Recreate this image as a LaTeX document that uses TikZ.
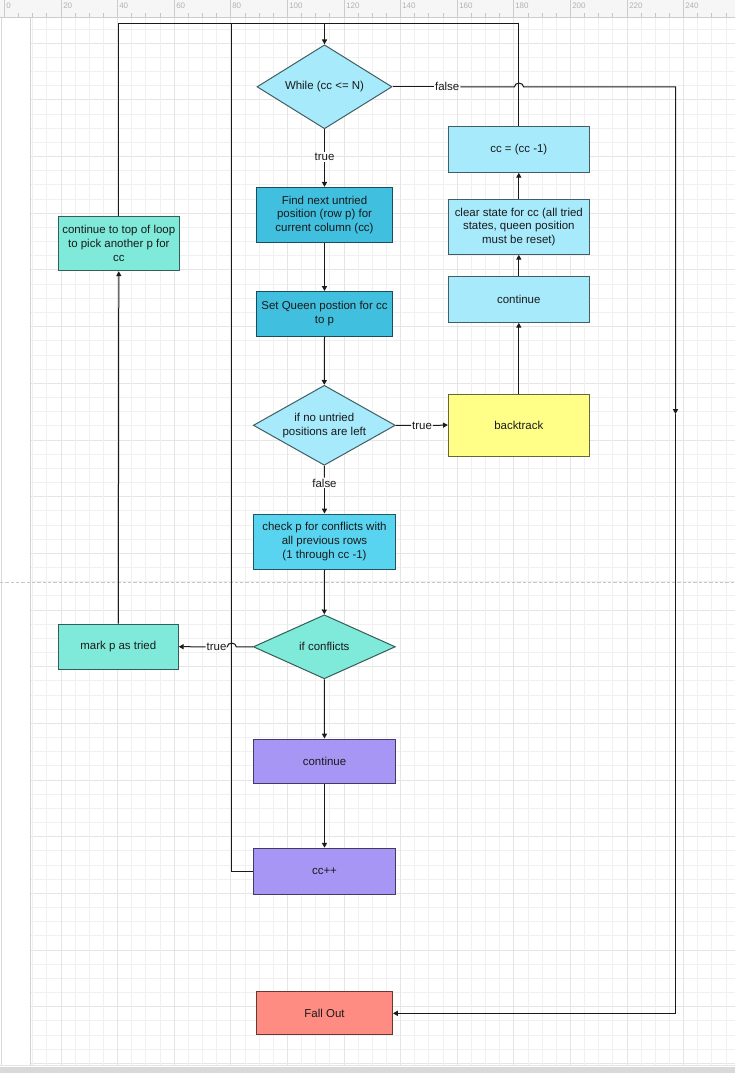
\documentclass[tikz,border=0pt]{standalone}
\usepackage{fontspec}
\setmainfont{Liberation Sans}
\usetikzlibrary{shapes.geometric,arrows.meta}

\definecolor{cyanlight}{HTML}{A6EAFB}
\definecolor{cyandark}{HTML}{40BFDE}
\definecolor{cyanmid}{HTML}{58D4F0}
\definecolor{aqua}{HTML}{80EADA}
\definecolor{lavender}{HTML}{A896F5}
\definecolor{lemon}{HTML}{FFFF88}
\definecolor{salmon}{HTML}{FF8C82}
\definecolor{ink}{HTML}{1A1A1A}

\begin{document}
\begin{tikzpicture}[x=0.75pt,y=-0.75pt,
  font=\fontsize{8.6}{10.2}\selectfont,
  flowbox/.style={rectangle, draw=#1!40!black, fill=#1, line width=0.75pt,
    inner sep=0pt, align=center, text=ink},
  flowdia/.style={diamond, draw=#1!40!black, fill=#1, line width=0.75pt,
    inner sep=0pt},
  txt/.style={align=center, text=ink, inner sep=0pt},
  lbl/.style={text=ink, inner sep=0.6pt},
  conn/.style={draw=ink, line width=0.75pt},
  arr/.style={conn, -{Triangle[length=3.6pt,width=3.8pt]}},
  gridminor/.style={draw=gray!12, line width=0.75pt},
  gridmajor/.style={draw=gray!20, line width=0.75pt},
]
% canvas
\fill[white] (0,0) rectangle (735,1073);
\useasboundingbox (0,0) rectangle (735,1073);

% drawing grid, one pixel wide lines on pixel centres;
% every fourth line is a major line
\foreach \i [evaluate=\i as \gy using {int(29.1+\i*14.17)+0.5},
             evaluate=\i as \m using {int(mod(\i,4))}] in {0,...,73} {
  \ifnum\m=1 \draw[gridmajor] (30,\gy) -- (735,\gy);
  \else \draw[gridminor] (30,\gy) -- (735,\gy); \fi
}
\foreach \k [evaluate=\k as \gx using {int(32.8+\k*14.15)+0.5},
             evaluate=\k as \m using {int(mod(\k,4))}] in {0,...,49} {
  \ifnum\m=2 \draw[gridmajor] (\gx,17) -- (\gx,1066);
  \else \draw[gridminor] (\gx,17) -- (\gx,1066); \fi
}
\draw[draw=gray!35, line width=0.75pt] (30.5,17) -- (30.5,1066);
\draw[draw=gray!30, line width=0.8pt] (1.5,17) -- (1.5,1066);

% ruler along the top
\fill[gray!7] (0,0) rectangle (735,17);
\draw[draw=gray!40, line width=0.75pt] (0,17.5) -- (735,17.5);
\foreach \k [evaluate=\k as \tx using {int(4.5+\k*14.15)+0.5}] in {0,...,51}
  \draw[draw=gray!45, line width=0.5pt] (\tx,13) -- (\tx,17);
\foreach \k [evaluate=\k as \v using int(20*\k),
             evaluate=\k as \tx using {int(4.5+\k*56.6)+0.5}] in {0,...,12} {
  \draw[draw=gray!40, line width=0.5pt] (\tx,0) -- (\tx,17);
  \node[anchor=north west, inner sep=0pt, text=gray!60,
        font=\fontsize{6}{7}\selectfont] at (\tx+1.5,2.5) {\v};
}

% page break and bottom bar
\draw[draw=gray!45, line width=0.6pt, dash pattern=on 2.5pt off 1.5pt]
  (0,582.5) -- (735,582.5);
\fill[gray!30] (0,1067) rectangle (735,1073);
\draw[draw=gray!20, line width=0.6pt] (0,1065.5) -- (735,1065.5);

% ---- nodes ----
\node[flowdia=cyanlight, minimum width=101.25pt, minimum height=63pt]
  (while) at (324.5,86.8) {};
\node[txt] at (while) {While (cc <= N)};

\node[flowbox=cyandark, minimum width=102pt, minimum height=41.25pt]
  (find) at (324.5,214.8) {Find next untried\\position (row p) for\\current column (cc)};
\node[flowbox=cyandark, minimum width=102pt, minimum height=33.5pt]
  (setq) at (324.5,313.8) {Set Queen postion for cc\\to p};

\node[flowdia=cyanlight, minimum width=106.5pt, minimum height=60pt]
  (noleft) at (324.3,425.3) {};
\node[txt] at (noleft) {if no untried\\positions are left};

\node[flowbox=cyanmid, minimum width=106.5pt, minimum height=41.25pt]
  (check) at (324.5,541.5) {check p for conflicts with\\all previous rows\\(1 through cc -1)};

\node[flowdia=aqua, minimum width=106.5pt, minimum height=48pt]
  (conflicts) at (324.3,646.8) {};
\node[txt] at (conflicts) {if conflicts};

\node[flowbox=lavender, minimum width=106.5pt, minimum height=33pt]
  (contp) at (324.5,761) {continue};
\node[flowbox=lavender, minimum width=106.5pt, minimum height=34.5pt]
  (ccpp) at (324.5,871.2) {cc++};
\node[flowbox=salmon, minimum width=102pt, minimum height=32.5pt]
  (fallout) at (324.5,1013.3) {Fall Out};

\node[flowbox=lemon, minimum width=105.75pt, minimum height=46.5pt]
  (backtrack) at (518.8,425) {backtrack};
\node[flowbox=cyanlight, minimum width=105.75pt, minimum height=34.25pt]
  (contr) at (518.8,299.5) {continue};
\node[flowbox=cyanlight, minimum width=105.75pt, minimum height=41.25pt]
  (clear) at (518.8,226.8) {clear state for cc (all tried\\states, queen position\\must be reset)};
\node[flowbox=cyanlight, minimum width=105.75pt, minimum height=34.25pt]
  (ccm) at (518.8,149.5) {cc = (cc -1)};

\node[flowbox=aqua, minimum width=90.75pt, minimum height=41pt]
  (totop) at (118.8,243.5) {continue to top of loop\\to pick another p for\\cc};
\node[flowbox=aqua, minimum width=90pt, minimum height=34pt]
  (markp) at (118.3,646.7) {mark p as tried};

% connector labels
\node[lbl] (tw) at (324.5,157) {true};
\node[lbl] (fw) at (447.2,86.8) {false};
\node[lbl] (tn) at (422,425.5) {true};
\node[lbl] (fn) at (324.5,483) {false};
\node[lbl] (tc) at (216.5,646.8) {true};

% junctions and bends
\coordinate (top) at (324.5,23.5);
\coordinate (hopA) at (519,86.8);
\coordinate (hopB) at (231.7,646.8);
\coordinate (rturn) at (675.5,86.8);
\coordinate (rmid) at (675.5,414);

% ---- connectors ----
% loop back to the while test
\draw[conn] (totop.north) |- (top);
\draw[conn] (ccm.north) |- (top);
\draw[conn] (ccpp.west) -- ++(-21.6,0) |- (top);
\draw[arr, line width=1.3pt] (top) -- (while.north);

% while: true branch
\draw[conn] (while.south) -- (tw.north);
\draw[arr] (tw.south) -- (find.north);
\draw[arr] (find.south) -- (setq.north);
\draw[arr] (setq.south) -- (noleft.north);

% while: false branch
\draw[conn] (while.east) -- (fw.west);
\draw[arr] (fw.east) -- ([xshift=-3.4pt]hopA)
  arc[start angle=180, end angle=0, x radius=3.4pt, y radius=2.8pt]
  -- (rturn) -- (rmid);
\draw[arr] (rmid) |- (fallout.east);

% no untried positions left
\draw[conn] (noleft.east) -- (tn.west);
\draw[arr] (tn.east) -- (backtrack.west);
\draw[arr] (backtrack.north) -- (contr.south);
\draw[arr] (contr.north) -- (clear.south);
\draw[arr] (clear.north) -- (ccm.south);

\draw[conn] (noleft.south) -- (fn.north);
\draw[arr] (fn.south) -- (check.north);
\draw[arr] (check.south) -- (conflicts.north);

% conflicts
\draw[conn] (conflicts.west) -- ([xshift=3.4pt]hopB)
  arc[start angle=0, end angle=180, x radius=3.4pt, y radius=2.8pt]
  -- (tc.east);
\draw[arr] (tc.west) -- (markp.east);
\draw[arr] (markp.north) -- (totop.south);
\draw[arr] (conflicts.south) -- (contp.north);
\draw[arr] (contp.south) -- (ccpp.north);
\end{tikzpicture}
\end{document}
